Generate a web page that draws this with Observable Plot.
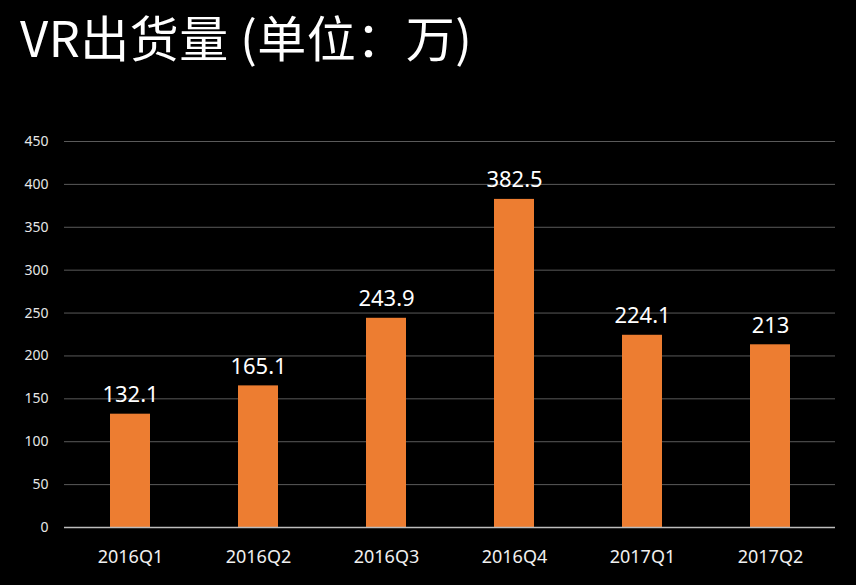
<!DOCTYPE html>
<html>
<head>
<meta charset="utf-8">
<script src="https://cdn.jsdelivr.net/npm/d3@7"></script>
<script src="https://cdn.jsdelivr.net/npm/@observablehq/plot@0.6"></script>
<style>
  html, body { margin: 0; padding: 0; background: #000; }
  #wrap { width: 856px; height: 585px; background: #000; position: relative; overflow: hidden; }
  #title { position: absolute; left: 20px; top: 0px; color: #fff; font-family: "Noto Sans CJK SC", "Noto Sans", sans-serif; font-size: 49px; line-height: normal; white-space: nowrap; letter-spacing: 0.5px; }
  #chart { position: absolute; left: 0; top: 100px; }
</style>
</head>
<body>
<div id="wrap">
  <div id="title">VR出货量 (单位：万)</div>
  <div id="chart"></div>
</div>
<script>
const quarters = ["2016Q1", "2016Q2", "2016Q3", "2016Q4", "2017Q1", "2017Q2"];
const shipments = [132.1, 165.1, 243.9, 382.5, 224.1, 213];
const labels = ["132.1", "165.1", "243.9", "382.5", "224.1", "213"];
const yTicks = [0, 50, 100, 150, 200, 250, 300, 350, 400, 450];

const data = quarters.map((q, i) => ({q, v: shipments[i], label: labels[i]}));

const chart = Plot.plot({
  width: 856,
  height: 485,
  marginTop: 41,
  marginBottom: 58,
  marginLeft: 64,
  marginRight: 21,
  style: {background: "#000", color: "#fff", fontFamily: "'Noto Sans', sans-serif"},
  x: {domain: quarters, paddingInner: 0.69, paddingOuter: 0.345, label: null},
  y: {domain: [0, 450], label: null},
  marks: [
    Plot.gridY(yTicks.filter(d => d > 0), {stroke: "#5a5a5a", strokeOpacity: 1, strokeWidth: 1}),
    Plot.axisY(yTicks, {tickSize: 0, tickPadding: 16, fontSize: 14, fill: "#e6e6e6", label: null}),
    Plot.axisX({tickSize: 0, tickPadding: 23, fontSize: 18, fill: "#f0f0f0", label: null}),
    Plot.barY(data, {x: "q", y: "v", fill: "#ED7D31"}),
    Plot.ruleY([0], {stroke: "#bdbdbd", strokeWidth: 1.5}),
    Plot.text(data, {x: "q", y: "v", text: "label", dy: -12, lineAnchor: "bottom", fontSize: 22, fill: "#fff"})
  ]
});
document.getElementById("chart").appendChild(chart);
</script>
</body>
</html>
